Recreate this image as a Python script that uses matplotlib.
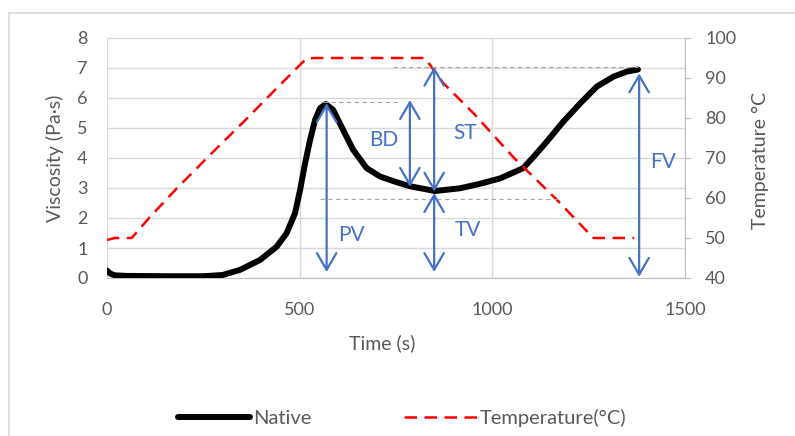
import matplotlib
matplotlib.use("Agg")
import matplotlib.pyplot as plt
from matplotlib.patches import FancyArrowPatch, ArrowStyle
from matplotlib.lines import Line2D

plt.rcParams['font.family'] = ['Lato', 'DejaVu Sans']

# ---- data ----
time_native = [0, 8, 20, 50, 150, 250, 300, 345, 397, 440, 466, 488, 501, 514, 527,
               540, 553, 568, 587, 613, 639, 674, 709, 750, 786, 851, 916, 968,
               1020, 1080, 1107, 1141, 1184, 1228, 1271, 1314, 1349, 1378]
visc_native = [0.25, 0.15, 0.09, 0.07, 0.06, 0.06, 0.1, 0.27, 0.6, 1.04, 1.49, 2.16, 2.93,
               3.82, 4.6, 5.27, 5.66, 5.8, 5.6, 4.93, 4.27, 3.66, 3.38, 3.2, 3.06, 2.9,
               2.99, 3.14, 3.32, 3.66, 4.04, 4.54, 5.21, 5.82, 6.38, 6.71, 6.88, 6.95]

time_temp = [0, 20, 64, 112, 181, 267, 354, 440, 501, 518, 540, 825, 873, 951, 1054, 1168,
             1262, 1368]
temp = [49.5, 50, 50, 55.3, 62.4, 70.75, 79, 87.4, 93.3, 94.9, 95, 95, 88.7, 81.2, 70.25,
        59.5, 50, 50]

# annotation arrows: label, x (s), y_top, y_bottom (Pa·s)
arrow_labels = ['PV', 'BD', 'ST', 'TV', 'FV']
arrow_x = [570, 786, 849, 849, 1381]
arrow_top = [5.83, 5.93, 7.04, 2.83, 6.82]
arrow_bottom = [0.2, 3.04, 2.88, 0.2, 0.04]
label_x = [635, 717, 929, 937, 1443]
label_y = [1.43, 4.6, 4.83, 1.6, 3.87]

# reference dashed guide lines: y, x_start, x_end
guide_y = [5.86, 7.04, 2.63]
guide_x0 = [560, 743, 553]
guide_x1 = [760, 1378, 1168]

xticks = [0, 500, 1000, 1500]
yticks_left = [0, 1, 2, 3, 4, 5, 6, 7, 8]
yticks_right = [40, 50, 60, 70, 80, 90, 100]

TXT = '#595959'
GRID = '#D9D9D9'
AXC = '#BFBFBF'
BLUE = '#4472C4'

W, H = 795, 436
fig = plt.figure(figsize=(W / 100, H / 100), dpi=100)
ax = fig.add_axes([107 / W, 1 - 278 / H, 578 / W, 240 / H])
ax2 = ax.twinx()

ax.plot(time_native, visc_native, color='black', lw=4.3, solid_capstyle='round',
        solid_joinstyle='round', label='Native', zorder=3)
ax2.plot(time_temp, temp, color='#FF0000', lw=1.8, linestyle=(0, (5, 3)),
         label='Temperature(\u00b0C)', zorder=3)

ax.set_xlim(0, 1500)
ax.set_ylim(0, 8)
ax2.set_ylim(40, 100)
ax.set_xticks(xticks)
ax.set_yticks(yticks_left)
ax2.set_yticks(yticks_right)

ax.grid(True, color=GRID, lw=1)
ax.set_axisbelow(True)
for s in ['top', 'left', 'right']:
    ax.spines[s].set_visible(False)
ax.spines['bottom'].set_color(AXC)
for s in ['top', 'left', 'bottom']:
    ax2.spines[s].set_visible(False)
ax2.spines['right'].set_color(AXC)

ax.tick_params(axis='x', length=0, pad=17, labelsize=13, labelcolor=TXT)
ax.tick_params(axis='y', length=0, pad=14, labelsize=13, labelcolor=TXT)
ax2.tick_params(axis='y', length=4.5, color=AXC, pad=10, labelsize=13, labelcolor=TXT)

# guide lines
for gy, gx0, gx1 in zip(guide_y, guide_x0, guide_x1):
    ax2.plot([gx0, gx1], [gy, gy], transform=ax.transData, color='#A6A6A6', lw=0.8,
             linestyle=(0, (4, 3)), zorder=4)

# arrows
style = ArrowStyle('<->', head_length=12, head_width=7)
for xa, yt, yb in zip(arrow_x, arrow_top, arrow_bottom):
    p = FancyArrowPatch((xa, yb), (xa, yt), transform=ax.transData, arrowstyle=style,
                        mutation_scale=1, color=BLUE, lw=1.6, shrinkA=0, shrinkB=0, zorder=5)
    ax2.add_patch(p)
for lab, lx, ly in zip(arrow_labels, label_x, label_y):
    ax2.text(lx, ly, lab, transform=ax.transData, color=BLUE, fontsize=15,
             ha='center', va='center', zorder=6)

# axis titles
fig.text(55 / W, 1 - 158 / H, 'Viscosity (Pa\u00b7s)', rotation=90, ha='center', va='center',
         fontsize=14, color=TXT)
fig.text(760 / W, 1 - 160 / H, 'Temperature \u00b0C', rotation=90, ha='center', va='center',
         fontsize=14, color=TXT)
fig.text(382 / W, 1 - 343 / H, 'Time (s)', ha='center', va='center', fontsize=14, color=TXT)

# legend
h1 = Line2D([], [], color='black', lw=4.3, solid_capstyle='round')
h2 = Line2D([], [], color='#FF0000', lw=1.8, linestyle=(0, (5, 3)))
leg = fig.legend([h1, h2], ['Native', 'Temperature(\u00b0C)'], loc='center',
                 bbox_to_anchor=(402 / W, 1 - 418 / H), ncol=2, frameon=False,
                 fontsize=14.5, handlelength=3.6, handletextpad=0.15, columnspacing=4.6)
for t in leg.get_texts():
    t.set_color(TXT)

# outer chart border (partially visible)
fig.add_artist(Line2D([8.5 / W, 8.5 / W], [0, 1 - 13 / H], color=GRID, lw=1.2,
                      transform=fig.transFigure))
fig.add_artist(Line2D([8.5 / W, 1], [1 - 13.5 / H, 1 - 13.5 / H], color=GRID, lw=1.2,
                      transform=fig.transFigure))

fig.savefig('out.png', dpi=100)
